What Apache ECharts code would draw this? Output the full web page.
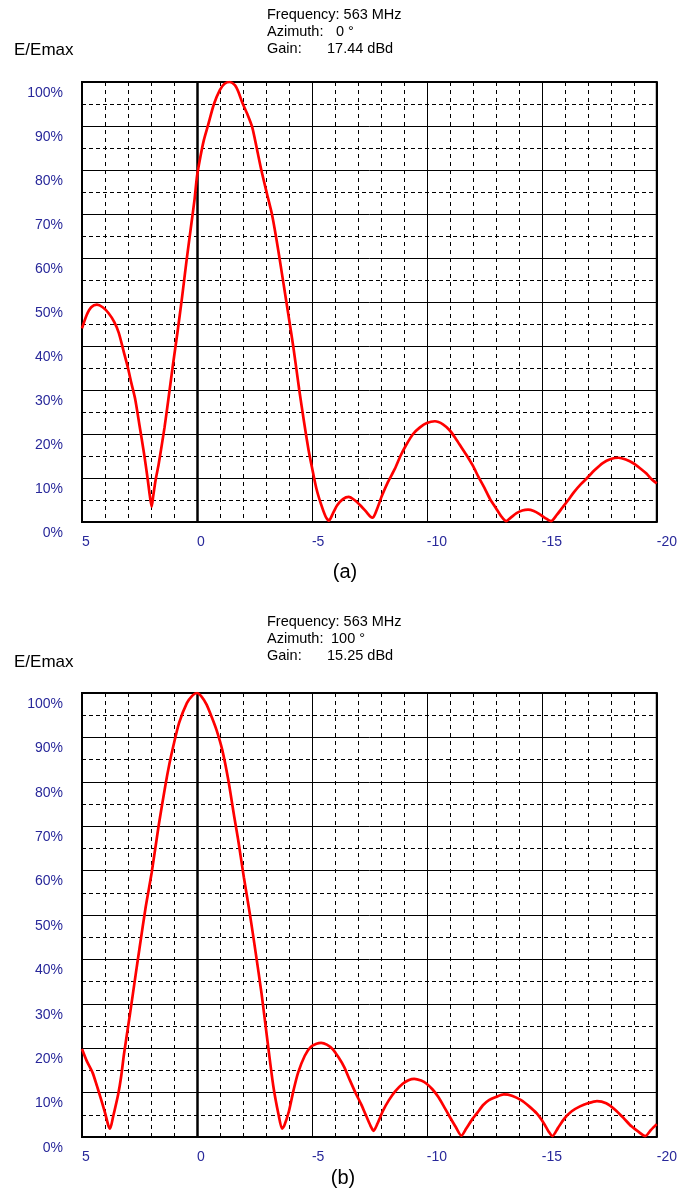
<!DOCTYPE html>
<html>
<head>
<meta charset="utf-8">
<script src="https://cdn.jsdelivr.net/npm/echarts@6/dist/echarts.min.js"></script>
<style>
  html, body { margin: 0; padding: 0; background: #fff; }
  #chart { width: 680px; height: 1194px; }
</style>
</head>
<body>
<div id="chart"></div>
<script>
// Vertical radiation pattern, relative field strength vs. elevation angle (degrees)
// Pattern (a): azimuth 0°
const angleA = [
  5.00, 4.80, 4.60, 4.35, 4.10, 3.85, 3.60, 3.40, 3.20, 3.00, 2.85, 2.69, 2.50, 2.30, 2.15, 2.05, 1.97,
  1.90, 1.80, 1.67, 1.50, 1.41, 1.24, 1.05, 0.85, 0.65, 0.45, 0.25, 0.10, 0.00,
  -0.15, -0.30, -0.49, -0.74, -1.00, -1.20, -1.43, -1.65, -1.80, -1.98, -2.20, -2.40, -2.60, -2.80,
  -3.05, -3.26, -3.45, -3.62, -3.80, -3.98, -4.20, -4.45, -4.65, -4.85, -5.00, -5.20, -5.40, -5.60, -5.74,
  -5.90, -6.10, -6.35, -6.60, -6.85, -7.10, -7.35, -7.55, -7.65,
  -7.80, -8.05, -8.30, -8.60, -8.85, -9.10, -9.40, -9.70, -10.00, -10.35, -10.70, -11.00, -11.25, -11.50,
  -11.75, -12.00, -12.25, -12.50, -12.75, -13.00, -13.25, -13.45,
  -13.65, -13.90, -14.15, -14.40, -14.65, -14.90, -15.15, -15.40,
  -15.65, -15.90, -16.15, -16.40, -16.70, -16.97, -17.30, -17.65, -18.00, -18.33, -18.65, -19.00,
  -19.30, -19.55, -19.80, -20.00
];
const fieldA = [
  44.0, 47.0, 48.8, 49.4, 48.8, 47.5, 45.5, 43.0, 39.0, 35.0, 31.5, 28.0, 22.0, 15.5, 10.0, 6.0, 3.5,
  6.0, 9.5, 13.0, 18.5, 21.5, 28.0, 35.5, 43.0, 51.0, 59.5, 67.5, 73.5, 78.5,
  83.0, 86.8, 90.3, 95.0, 98.2, 99.6, 100.0, 99.3, 97.8, 95.2, 92.6, 89.8, 85.0, 80.0,
  74.5, 70.0, 64.5, 59.0, 53.0, 47.0, 39.5, 30.0, 23.0, 16.5, 12.5, 7.5, 4.0, 1.2, 0.3,
  1.8, 3.8, 5.2, 5.7, 5.0, 3.8, 2.4, 1.2, 1.0,
  2.5, 6.0, 9.0, 12.0, 15.0, 17.5, 20.0, 21.5, 22.5, 22.9, 22.2, 20.8, 19.0, 17.0,
  15.0, 12.8, 10.2, 7.8, 5.2, 3.2, 1.2, 0.2,
  1.0, 2.0, 2.6, 2.8, 2.5, 1.8, 0.9, 0.2,
  1.6, 3.3, 5.0, 6.8, 8.6, 10.0, 11.8, 13.4, 14.3, 14.6, 14.2, 13.3,
  12.1, 11.0, 9.6, 8.8
];

// Pattern (b): azimuth 100°
const angleB = [
  5.00, 4.80, 4.54, 4.35, 4.20, 4.00, 3.85, 3.78,
  3.65, 3.43, 3.30, 3.17, 2.91, 2.66, 2.49, 2.23, 1.97, 1.67, 1.38, 1.20, 1.03, 0.78, 0.44, 0.20, 0.00,
  -0.20, -0.42, -0.65, -0.85, -1.10, -1.36, -1.62, -1.79, -2.04, -2.30, -2.56, -2.81, -3.07, -3.32, -3.55, -3.70,
  -3.80, -4.00, -4.20, -4.40, -4.69, -4.95, -5.20, -5.40, -5.65, -5.90, -6.15, -6.40, -6.65, -6.91, -7.15, -7.34, -7.55, -7.68,
  -7.85, -8.10, -8.35, -8.62, -8.95, -9.20, -9.45, -9.75, -9.99, -10.25, -10.50, -10.75, -11.00, -11.25, -11.50,
  -11.70, -11.95, -12.20, -12.45, -12.70, -13.00, -13.35, -13.70, -14.10, -14.45, -14.78, -15.10, -15.30, -15.46,
  -15.70, -15.97, -16.30, -16.66, -17.00, -17.40, -17.80, -18.20, -18.55, -18.90, -19.20, -19.50,
  -19.75, -20.00
];
const fieldB = [
  19.8, 17.2, 14.5, 11.5, 9.0, 5.5, 2.5, 1.9,
  4.5, 9.5, 13.5, 18.8, 27.8, 36.8, 42.8, 51.8, 59.5, 70.0, 79.0, 84.0, 88.0, 93.2, 97.7, 99.4, 100.0,
  99.2, 97.4, 94.5, 91.7, 87.2, 80.5, 72.2, 67.0, 58.5, 50.3, 41.3, 32.3, 21.5, 11.5, 5.0, 1.9,
  2.6, 5.8, 10.5, 14.5, 18.3, 20.3, 21.0, 21.2, 20.8, 19.8, 18.0, 15.8, 12.8, 9.8, 7.3, 5.0, 2.5, 1.4,
  3.0, 6.0, 8.3, 10.3, 12.0, 12.8, 13.1, 12.7, 12.0, 10.7, 9.0, 6.8, 4.5, 2.3, 0.3,
  1.8, 3.8, 5.5, 7.2, 8.3, 9.0, 9.6, 9.3, 8.3, 6.9, 5.3, 3.0, 1.2, 0.2,
  2.0, 4.1, 5.8, 6.9, 7.6, 8.1, 7.6, 6.1, 4.3, 2.4, 1.2, 0.2,
  1.6, 2.9
];

// Header text for each pattern
const yTitle = 'E/Emax';
const headerA = [['Frequency: 563 MHz', ''], ['Azimuth:', '0 °'], ['Gain:', '17.44 dBd']];
const headerB = [['Frequency: 563 MHz', ''], ['Azimuth:', '100 °'], ['Gain:', '15.25 dBd']];
const captions = ['(a)', '(b)'];

// Axis ranges
const angleMin = -20, angleMax = 5, angleStep = 5;
const fieldMin = 0, fieldMax = 100, fieldStep = 10;

const FONT = '"Liberation Sans", Arial, sans-serif';
const LABEL_BLUE = '#28289a';

const toPairs = (xs, ys) => xs.map((x, i) => [x, ys[i]]);

function makeX(gridIndex) {
  return {
    type: 'value', gridIndex, inverse: true,
    min: angleMin, max: angleMax, interval: angleStep,
    axisLine: { show: false }, axisTick: { show: false },
    axisLabel: {
      color: LABEL_BLUE, fontFamily: FONT, fontSize: 14, align: 'left',
      margin: 13, formatter: v => String(v)
    },
    splitLine: { show: true, lineStyle: { color: '#000', width: 1 } },
    minorTick: { show: false, splitNumber: 5 },
    minorSplitLine: { show: true, lineStyle: { color: '#000', width: 1, type: [4, 4] } }
  };
}
function makeY(gridIndex) {
  return {
    type: 'value', gridIndex,
    min: fieldMin, max: fieldMax, interval: fieldStep,
    axisLine: { show: false }, axisTick: { show: false },
    axisLabel: {
      color: LABEL_BLUE, fontFamily: FONT, fontSize: 14, align: 'right',
      verticalAlign: 'top', padding: [4, 0, 0, 0], margin: 19,
      formatter: '{value}%'
    },
    splitLine: { show: true, lineStyle: { color: '#000', width: 1 } },
    minorTick: { show: false, splitNumber: 2 },
    minorSplitLine: { show: true, lineStyle: { color: '#000', width: 1, type: [4, 3] } }
  };
}
function makeSeries(idx, xs, ys) {
  return {
    type: 'line', xAxisIndex: idx, yAxisIndex: idx,
    data: toPairs(xs, ys), showSymbol: false, smooth: 0.25,
    lineStyle: { color: '#ff0000', width: 2.7 },
    z: 5,
    markLine: {
      silent: true, symbol: ['none', 'none'], label: { show: false },
      lineStyle: { color: '#000', width: 2.5, type: 'solid' },
      data: [{ xAxis: 0 }]
    }
  };
}

function textEl(text, x, y, size, color, align) {
  return {
    type: 'text', x, y, silent: true,
    style: { text, fill: color || '#000', font: size + 'px ' + FONT, align: align || 'left', verticalAlign: 'middle' }
  };
}
function headerEls(rows, ys, valueXs) {
  const els = [];
  rows.forEach((r, i) => {
    els.push(textEl(r[0], 267, ys[i], 14.5));
    if (r[1]) els.push(textEl(r[1], valueXs[i], ys[i], 14.5));
  });
  return els;
}

const chart = echarts.init(document.getElementById('chart'), null, { renderer: 'canvas' });
chart.setOption({
  animation: false,
  backgroundColor: '#fff',
  grid: [
    { left: 82, top: 82, width: 575, height: 440, show: true, borderColor: '#000', borderWidth: 2, backgroundColor: 'transparent' },
    { left: 82, top: 693, width: 575, height: 444, show: true, borderColor: '#000', borderWidth: 2, backgroundColor: 'transparent' }
  ],
  xAxis: [makeX(0), makeX(1)],
  yAxis: [makeY(0), makeY(1)],
  series: [makeSeries(0, angleA, fieldA), makeSeries(1, angleB, fieldB)],
  graphic: [
    textEl(yTitle, 14, 50, 17),
    textEl(yTitle, 14, 662, 17),
    ...headerEls(headerA, [15, 32, 49], [0, 336, 327]),
    ...headerEls(headerB, [622, 639, 656], [0, 331, 327]),
    textEl(captions[0], 345, 572, 20, '#000', 'center'),
    textEl(captions[1], 343, 1178, 20, '#000', 'center')
  ]
});
</script>
</body>
</html>
